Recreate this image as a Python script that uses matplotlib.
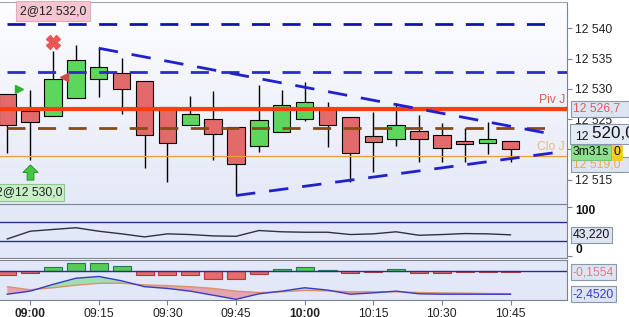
import numpy as np
import matplotlib
matplotlib.use('Agg')
import matplotlib.pyplot as plt
from matplotlib.colors import LinearSegmentedColormap
from matplotlib.path import Path

plt.rcParams['font.family'] = ['Liberation Sans', 'DejaVu Sans']

# --- données (bougies 5 min) ---
times = ['08:55', '09:00', '09:05', '09:10', '09:15', '09:20', '09:25', '09:30',
         '09:35', '09:40', '09:45', '09:50', '09:55', '10:00', '10:05', '10:10',
         '10:15', '10:20', '10:25', '10:30', '10:35', '10:40', '10:45']
opens = [12529.1, 12526.3, 12525.6, 12528.5, 12531.7, 12532.6, 12531.3, 12527.0,
         12524.0, 12525.0, 12523.7, 12520.6, 12522.8, 12525.0, 12526.9, 12525.3,
         12522.3, 12521.8, 12523.0, 12522.45, 12521.45, 12521.1, 12521.45]
highs = [12529.1, 12529.8, 12536.2, 12537.3, 12536.7, 12535.1, 12531.3, 12527.0,
         12528.8, 12529.7, 12523.7, 12530.7, 12529.8, 12531.2, 12527.8, 12525.3,
         12526.2, 12527.6, 12525.7, 12524.3, 12523.55, 12524.55, 12521.45]
lows = [12519.4, 12518.3, 12525.6, 12528.5, 12528.7, 12525.8, 12516.9, 12514.7,
        12524.0, 12518.2, 12512.5, 12519.6, 12522.8, 12524.7, 12520.4, 12514.7,
        12516.2, 12520.5, 12517.9, 12517.9, 12517.9, 12519.2, 12517.9]
closes = [12524.0, 12524.55, 12531.6, 12534.8, 12533.6, 12530.0, 12522.45, 12521.1,
          12525.8, 12522.5, 12517.6, 12524.8, 12527.3, 12527.8, 12524.1, 12519.4,
          12521.2, 12524.1, 12521.8, 12520.3, 12520.9, 12521.7, 12520.0]

rsi = [34.8, 50.6, 54.2, 57.7, 50.6, 45.2, 39.0, 45.2, 43.8, 41.0, 40.2, 52.0,
       49.4, 48.5, 48.5, 43.8, 45.2, 49.4, 42.3, 43.8, 45.8, 45.2, 43.22]
macd = [-2.45, -2.13, -1.43, -0.79, -0.61, -1.06, -1.67, -1.85, -2.13, -2.55, -2.98,
        -2.41, -2.13, -1.78, -2.02, -2.45, -2.31, -2.13, -2.41, -2.45, -2.45, -2.45, -2.452]
signal = [-1.67, -1.99, -1.78, -1.51, -1.32, -1.30, -1.49, -1.56, -1.67, -1.85, -2.13,
          -2.28, -2.20, -2.06, -2.10, -2.20, -2.20, -2.20, -2.28, -2.31, -2.34, -2.38, -2.41]
hist = [-0.50, -0.21, 0.35, 0.82, 0.82, 0.43, -0.43, -0.43, -0.43, -0.85, -0.85,
        -0.32, 0.14, 0.35, 0.02, -0.21, -0.14, 0.18, -0.21, -0.21, -0.11, -0.11, -0.1554]

# niveaux
level_high = 12540.7
level_r1 = 12532.7
pivot = 12526.7
level_mid = 12523.6
clo = 12519.0
lines_end = 24  # 10:55
upper_x, upper_y = [4, 24], [12536.7, 12522.4]
lower_x, lower_y = [10, 24], [12512.4, 12519.5]

# ordres
buy_idx, buy_qty, buy_price = 1, 2, 12530.0
sell_idx, sell_qty, sell_price = 2, 2, 12532.0
arrow_pos = (1, 12516.3)
cross_pos = (2, 12537.8)

price_ticks = [12515, 12520, 12525, 12530, 12535, 12540]
tick_times = ['09:00', '09:15', '09:30', '09:45', '10:00', '10:15', '10:30', '10:45']
timer = '3m31s'


def fmt_price(v):
    return f"{int(v) // 1000} {v % 1000:05.1f}".replace('.', ',')


W, H = 629, 317
fig = plt.figure(figsize=(W / 100, H / 100), dpi=100)


def frame(top, bottom):
    return [0, 1 - bottom / H, 567 / W, (bottom - top) / H]


ax = fig.add_axes(frame(2, 204))
ax2 = fig.add_axes(frame(204, 258))
ax3 = fig.add_axes(frame(260, 300))

x = np.arange(len(times))
xlim = (-0.32, 24.47)
fs = 8.7
grey = '#7c8494'

# --- fond dégradé du graphique principal ---
cmap = LinearSegmentedColormap.from_list('bg', ['#fdfdff', '#e4e9f7'])
ax.imshow(np.linspace(0, 1, 256).reshape(-1, 1), extent=[0, 1, 0, 1],
          transform=ax.transAxes, cmap=cmap, aspect='auto', zorder=0)

# --- bougies ---
o, hi, lo, c = map(np.array, (opens, highs, lows, closes))
up = c >= o
ax.vlines(x, lo, hi, color='black', lw=1, zorder=3)
ax.bar(x, np.maximum(np.abs(c - o), 0.15), bottom=np.minimum(o, c), width=0.76,
       color=np.where(up, '#5cd65c', '#e26a6a'), edgecolor='black', lw=0.8, zorder=4)

# --- niveaux et lignes ---
dash = (0, (6.5, 4.5))
ax.plot([0, lines_end], [level_high] * 2, color='#1212b4', lw=2, ls=dash, zorder=5)
ax.plot([0, xlim[1]], [level_r1] * 2, color='#2a2ad0', lw=2, ls=dash, zorder=5)
ax.plot([0, lines_end], [level_mid] * 2, color='#8a4a14', lw=2, ls=dash, zorder=5)
ax.axhline(pivot, color='#ff3c14', lw=3, zorder=5)
ax.axhline(clo, color='#f0a030', lw=0.9, zorder=5)
ax.plot(upper_x, upper_y, color='#2020cc', lw=2, ls=(0, (7, 5)), zorder=5)
ax.plot(lower_x, lower_y, color='#2020cc', lw=2, ls=(0, (7, 5)), zorder=5)

# marqueurs d'ordres
arrow = Path([(0, 1), (1, 0), (0.45, 0), (0.45, -1), (-0.45, -1), (-0.45, 0), (-1, 0), (0, 1)])
ax.plot(*arrow_pos, marker=arrow, ms=11, color='#44c844', mec='#1e8a1e', mew=0.6, zorder=7)
ax.plot(*cross_pos, marker='X', ms=10, color='#e85656', mec='#e85656', zorder=7)
ax.plot(buy_idx - 0.5, buy_price, marker='>', ms=5.5, color='#30b030', zorder=7)
ax.plot(sell_idx + 0.5, sell_price, marker='<', ms=5.5, color='#d04848', zorder=7)

bx = ax.get_xaxis_transform()
ax.annotate(f"{sell_qty}@{fmt_price(sell_price)}", xy=(sell_idx, 1), xycoords=bx,
            xytext=(0, -6.5), textcoords='offset points', ha='center', va='center',
            fontsize=fs, color='#202020', zorder=9, annotation_clip=False,
            bbox=dict(boxstyle='square,pad=0.3', fc='#f4c6cf', ec='#e8aab6', lw=0.8))
ax.annotate(f"{buy_qty}@{fmt_price(buy_price)}", xy=(buy_idx, 0), xycoords=bx,
            xytext=(-1, 8.3), textcoords='offset points', ha='center', va='center',
            fontsize=fs, color='#202020', zorder=9, annotation_clip=False,
            bbox=dict(boxstyle='square,pad=0.2', fc='#c8f0c8', ec='#8cc88c', lw=0.8))

ax.set_xlim(*xlim)
ax.set_ylim(12511.0, 12544.33)
ax.set_xticks([])
ax.yaxis.tick_right()
ax.set_yticks(price_ticks)
ax.set_yticklabels([fmt_price(v)[:-2] for v in price_ticks])
ax.tick_params(axis='y', length=3.6, pad=2, colors=grey, labelcolor='#222222', labelsize=fs)
for s in ['left', 'bottom']:
    ax.spines[s].set_visible(False)
ax.spines['right'].set_color(grey)
ax.spines['top'].set_color('#a0a6b0')

# étiquettes à droite
yt = ax.get_yaxis_transform()
ax.annotate('Piv J', xy=(1, pivot), xycoords=yt, xytext=(-1.5, 2), textcoords='offset points',
            ha='right', va='bottom', color='#e05a5a', fontsize=fs, zorder=8)
ax.annotate('Clo J', xy=(1, clo), xycoords=yt, xytext=(-1.5, 2), textcoords='offset points',
            ha='right', va='bottom', color='#f0b060', fontsize=fs, zorder=8, alpha=0.85)


def side_box(axis, y, text, color, fc, dy=0, size=fs, z=10, weight='normal', ec='#8a96aa'):
    axis.annotate(text, xy=(1, y), xycoords=axis.get_yaxis_transform(), xytext=(4.3, dy),
                  textcoords='offset points', ha='left', va='center', color=color,
                  fontsize=size, fontweight=weight, zorder=z, annotation_clip=False,
                  bbox=dict(boxstyle='square,pad=0.15', fc=fc, ec=ec, lw=0.8))


side_box(ax, pivot, fmt_price(pivot) + '  ', '#e05a5a', '#dde5f3')
side_box(ax, clo, fmt_price(clo) + '  ', '#f0a848', '#dde5f3', dy=-6.5, z=10)
side_box(ax, clo, timer, '#111111', '#8ee08e', dy=2.2, z=11, ec='#7cc07c')
ax.annotate('0', xy=(1, clo), xycoords=yt, xytext=(33.5, 2.2), textcoords='offset points',
            ha='left', va='center', fontsize=fs, color='#111111', zorder=12,
            annotation_clip=False,
            bbox=dict(boxstyle='square,pad=0.15', fc='#f2cc20', ec='#f2cc20', lw=0.5))
last = closes[-1]
big = fmt_price(last)
side_box(ax, last, '    ' + big.split(' ')[1], '#111111', '#e3eaf7', dy=11.3, size=12.3, z=13)
ax.annotate(big.split(' ')[0], xy=(1, last), xycoords=yt, xytext=(5.8, 9.0),
            textcoords='offset points', ha='left', va='center', fontsize=fs,
            color='#111111', zorder=14, annotation_clip=False)

# --- panneau 2 : oscillateur ---
ax2.set_facecolor('#e2e8f7')
ax2.axhline(70, color='#2c2c98', lw=1)
ax2.axhline(30, color='#2c2c98', lw=1)
ax2.plot(x, rsi, color='#303040', lw=1)
ax2.set_xlim(*xlim)
ax2.set_ylim(-4.17, 106.25)
ax2.set_xticks([])
ax2.yaxis.tick_right()
ax2.set_yticks([0, 100])
ax2.set_yticklabels([])
ax2.tick_params(axis='y', length=3.6, colors=grey)
ax2.spines['left'].set_visible(False)
for s in ['right', 'top', 'bottom']:
    ax2.spines[s].set_color(grey)
yt2 = ax2.get_yaxis_transform()
ax2.annotate('100', xy=(1, 100), xycoords=yt2, xytext=(5.8, -2.7), textcoords='offset points',
             ha='left', va='center', fontsize=fs, fontweight='bold', color='#111111',
             annotation_clip=False)
ax2.annotate('0', xy=(1, 0), xycoords=yt2, xytext=(5.8, 4.3), textcoords='offset points',
             ha='left', va='center', fontsize=fs, fontweight='bold', color='#111111',
             annotation_clip=False)
side_box(ax2, rsi[-1], f"{rsi[-1]:.3f}".replace('.', ','), '#111111', '#dde5f3')

# --- panneau 3 : MACD ---
ax3.set_facecolor('#e2e8f7')
hv = np.array(hist)
ax3.bar(x, hv, width=0.79, color=np.where(hv >= 0, '#55cc55', '#e86a6a'),
        edgecolor=np.where(hv >= 0, '#237a5a', '#b03a3a'), lw=0.8, zorder=2)
ax3.axhline(0, color='#2c2c98', lw=1, zorder=3)
m, sg = np.array(macd), np.array(signal)
ax3.fill_between(x, m, sg, where=m >= sg, interpolate=True, color='#9fe0b0', lw=0, zorder=3)
ax3.fill_between(x, m, sg, where=m < sg, interpolate=True, color='#e4a4b4', lw=0, zorder=3)
ax3.plot(x, sg, color='#d8926c', lw=1, zorder=4)
ax3.plot(x, m, color='#3a3ac8', lw=1, zorder=5)
ax3.set_xlim(*xlim)
ax3.set_ylim(-3.05, 1.10)
ax3.yaxis.tick_right()
ax3.set_yticks([])
ax3.spines['left'].set_visible(False)
for s in ['right', 'top', 'bottom']:
    ax3.spines[s].set_color(grey)
ax3.set_xticks([times.index(t) for t in tick_times])
ax3.set_xticklabels(tick_times)
for lab in ax3.get_xticklabels():
    if lab.get_text().endswith(':00'):
        lab.set_fontweight('bold')
ax3.tick_params(axis='x', length=3.6, pad=2.2, colors=grey, labelcolor='#222222', labelsize=fs)
side_box(ax3, hist[-1], f"{hist[-1]:.4f}".replace('.', ','), '#e07888', '#dde5f3')
side_box(ax3, macd[-1], f"{macd[-1]:.4f}".replace('.', ','), '#3a3ac8', '#dde5f3')

fig.savefig('out.png', dpi=100)
